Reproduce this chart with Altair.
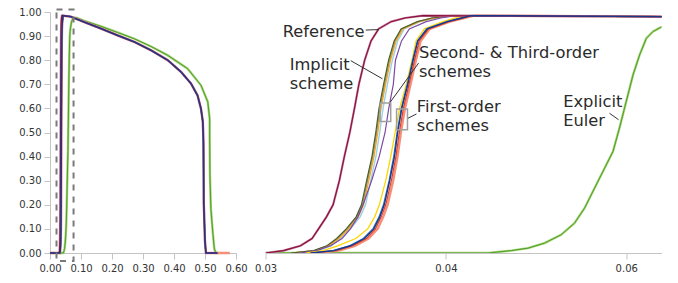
import altair as alt
import pandas as pd

# ---------------- data ----------------
# profile levels at which the rising front of each scheme was read
levels = [0.0, 0.01, 0.03, 0.06, 0.10, 0.15, 0.20, 0.30, 0.40, 0.50,
          0.60, 0.70, 0.80, 0.88, 0.93, 0.96, 0.975, 0.985]

ref_x = [0.0300, 0.03077, 0.03153, 0.03207, 0.03238, 0.03277, 0.03310, 0.03342, 0.03368,
         0.03397, 0.03422, 0.03446, 0.03478, 0.03514, 0.03558, 0.03633, 0.03718, 0.03837]
olive_x = [0.0311, 0.03214, 0.03279, 0.03328, 0.03378, 0.03431, 0.03460, 0.03489, 0.03519,
           0.03541, 0.03560, 0.03587, 0.03617, 0.03651, 0.03694, 0.03800, 0.03899, 0.04038]
grey_x = [0.0312, 0.03220, 0.03285, 0.03334, 0.03384, 0.03436, 0.03466, 0.03494, 0.03524,
          0.03546, 0.03566, 0.03593, 0.03623, 0.03657, 0.03700, 0.03806, 0.03905, 0.04045]
orange_x = [0.0312, 0.03226, 0.03290, 0.03340, 0.03391, 0.03442, 0.03472, 0.03501, 0.03531,
            0.03553, 0.03572, 0.03599, 0.03629, 0.03663, 0.03705, 0.03812, 0.03910, 0.04050]
lightblue_x = [0.0313, 0.03236, 0.03300, 0.03350, 0.03401, 0.03453, 0.03483, 0.03512, 0.03542,
               0.03564, 0.03584, 0.03610, 0.03640, 0.03673, 0.03714, 0.03818, 0.03915, 0.04056]
purple_x = [0.0315, 0.03229, 0.03297, 0.03356, 0.03400, 0.03441, 0.03469, 0.03517, 0.03561,
            0.03596, 0.03618, 0.03646, 0.03659, 0.03697, 0.03747, 0.03860, 0.03963, 0.04076]
yellow_x = [0.0318, 0.03261, 0.03333, 0.03429, 0.03495, 0.03535, 0.03562, 0.03600, 0.03630,
            0.03657, 0.03685, 0.03727, 0.03764, 0.03791, 0.03847, 0.03978, 0.04068, 0.04236]
navy_x = [0.0320, 0.03314, 0.03401, 0.03477, 0.03530, 0.03565, 0.03591, 0.03624, 0.03653,
          0.03673, 0.03699, 0.03737, 0.03772, 0.03803, 0.03868, 0.04011, 0.04122, 0.04194]
blue_x = [0.0320, 0.03308, 0.03395, 0.03470, 0.03524, 0.03560, 0.03586, 0.03620, 0.03648,
          0.03669, 0.03695, 0.03733, 0.03768, 0.03800, 0.03862, 0.04005, 0.04115, 0.04190]
red_x = [0.0321, 0.03325, 0.03412, 0.03488, 0.03539, 0.03573, 0.03600, 0.03634, 0.03662,
         0.03683, 0.03709, 0.03745, 0.03781, 0.03812, 0.03876, 0.04025, 0.04135, 0.04210]
salmon_x = [0.0322, 0.03340, 0.03425, 0.03500, 0.03552, 0.03585, 0.03611, 0.03645, 0.03672,
            0.03693, 0.03719, 0.03755, 0.03790, 0.03822, 0.03885, 0.04030, 0.04140, 0.04220]

# common decay of the profile (left panel) shared by the overlapping schemes
fall_x = [0.0665, 0.111, 0.165, 0.218, 0.272, 0.326, 0.380, 0.423, 0.455, 0.476,
          0.487, 0.493, 0.495, 0.496, 0.500, 0.503, 0.540]
fall_y = [0.981, 0.958, 0.931, 0.903, 0.876, 0.841, 0.800, 0.751, 0.703, 0.654,
          0.599, 0.544, 0.460, 0.210, 0.046, 0.000, 0.000]
salmon_tail_x = [0.580]
salmon_tail_y = [0.000]

# explicit Euler
green_x = [0.0, 0.0300, 0.0434, 0.04550, 0.04715, 0.04892, 0.05082, 0.05247, 0.05378, 0.05515,
           0.05660, 0.05787, 0.05889, 0.06000, 0.06115, 0.06231, 0.06355, 0.06482, 0.06632,
           0.0700, 0.0750, 0.0850, 0.111, 0.165, 0.218, 0.272, 0.326, 0.380, 0.444, 0.487,
           0.509, 0.515, 0.515, 0.516, 0.519, 0.525, 0.530, 0.535, 0.545]
green_y = [0.0, 0.0, 0.0, 0.010, 0.020, 0.041, 0.0755, 0.124, 0.186, 0.269,
           0.352, 0.421, 0.518, 0.629, 0.739, 0.822, 0.891, 0.919, 0.936,
           0.962, 0.975, 0.976, 0.963, 0.940, 0.915, 0.889, 0.857, 0.820, 0.765, 0.696,
           0.627, 0.557, 0.490, 0.320, 0.184, 0.087, 0.018, 0.0, 0.0]

# annotations (right panel)
label_text = ["Reference", "Implicit\nscheme", "Second- & Third-order\nschemes",
              "First-order\nschemes", "Explicit\nEuler"]
label_x = [0.03073, 0.03104, 0.03810, 0.03796, 0.05107]
label_y = [0.898, 0.761, 0.809, 0.587, 0.604]

leader_x = [0.03484, 0.03402, 0.03808, 0.03794, 0.05734]
leader_x2 = [0.03559, 0.03580, 0.03621, 0.03735, 0.05875]
leader_y = [0.925, 0.798, 0.788, 0.577, 0.580]
leader_y2 = [0.927, 0.723, 0.620, 0.558, 0.553]

box_x = [0.03567, 0.03666]
box_x2 = [0.03630, 0.03735]
box_y = [0.622, 0.598]
box_y2 = [0.546, 0.511]

zoom_box_x, zoom_box_x2 = [0.021], [0.076]
zoom_box_y, zoom_box_y2 = [1.01], [-0.033]

left_ticks_x = [0.0, 0.1, 0.2, 0.3, 0.4, 0.5, 0.6]
left_ticks_y = [0.0, 0.1, 0.2, 0.3, 0.4, 0.5, 0.6, 0.7, 0.8, 0.9, 1.0]
right_ticks_x = [0.03, 0.04, 0.06]

# ---------------- build series ----------------
def std_series(rise, tail_x=(), tail_y=()):
    xs = [0.0] + list(rise) + fall_x + list(tail_x)
    ys = [0.0] + list(levels) + fall_y + list(tail_y)
    return pd.DataFrame({"x": xs, "y": ys, "i": list(range(len(xs)))})

green_df = pd.DataFrame({"x": green_x, "y": green_y, "i": list(range(len(green_x)))})

series = [
    (green_df, "#a6d47c", 2.4),
    (green_df, "#4f9e23", 1.0),
    (std_series(salmon_x, salmon_tail_x, salmon_tail_y), "#f4907a", 2.4),
    (std_series(grey_x), "#8e9a7a", 1.6),
    (std_series(lightblue_x), "#9ccfe8", 1.4),
    (std_series(orange_x), "#f5a623", 1.3),
    (std_series(olive_x), "#4e5f2a", 1.2),
    (std_series(purple_x), "#7b4aa6", 1.2),
    (std_series(yellow_x), "#ffd400", 1.3),
    (std_series(red_x), "#e53b1f", 1.2),
    (std_series(blue_x), "#2b7bc4", 1.2),
    (std_series(ref_x), "#c27a9c", 2.2),
    (std_series(ref_x), "#8a0f3a", 1.1),
    (std_series(navy_x), "#1c3688", 1.4),
]

axis_style = dict(domainColor="#c4c4c4", tickColor="#c4c4c4", labelColor="#333333",
                  labelFont="DejaVu Sans", labelFontSize=10, tickSize=6, grid=False,
                  labelFlush=False, title=None, format=".2f")

yscale = alt.Scale(domain=[0, 1], nice=False, zero=False)

# ---------------- left panel ----------------
lx = alt.X("x:Q", scale=alt.Scale(domain=[0, 0.6], nice=False, zero=False),
           axis=alt.Axis(values=left_ticks_x, labelPadding=4, **axis_style))
ly = alt.Y("y:Q", scale=yscale,
           axis=alt.Axis(values=left_ticks_y, labelPadding=3, **axis_style))

left_layers = []
for df, col, w in series:
    left_layers.append(
        alt.Chart(df).mark_line(color=col, strokeWidth=w).encode(x=lx, y=ly, order="i:Q")
    )
zoom_df = pd.DataFrame({"x": zoom_box_x, "x2": zoom_box_x2, "y": zoom_box_y, "y2": zoom_box_y2})
left_layers.append(
    alt.Chart(zoom_df).mark_rect(filled=False, stroke="#7a7a7a", strokeWidth=2,
                                 strokeDash=[6, 6]).encode(x=lx, x2="x2:Q", y=ly, y2="y2:Q")
)
left = alt.layer(*left_layers).properties(width=186, height=241)

# ---------------- right panel ----------------
rscale = alt.Scale(type="pow", exponent=-1, domain=[0.03, 0.0665], nice=False, zero=False)
rx = alt.X("x:Q", scale=rscale,
           axis=alt.Axis(values=right_ticks_x, labelPadding=4, **axis_style))
ry = alt.Y("y:Q", scale=yscale, axis=None)

right_layers = []
for df, col, w in series:
    right_layers.append(
        alt.Chart(df).transform_filter("datum.x >= 0.029 && datum.x <= 0.2")
        .mark_line(color=col, strokeWidth=w, clip=True).encode(x=rx, y=ry, order="i:Q")
    )

lead_df = pd.DataFrame({"x": leader_x, "x2": leader_x2, "y": leader_y, "y2": leader_y2})
right_layers.append(
    alt.Chart(lead_df).mark_rule(color="#333333", strokeWidth=1)
    .encode(x=rx, x2="x2:Q", y=ry, y2="y2:Q")
)
box_df = pd.DataFrame({"x": box_x, "x2": box_x2, "y": box_y, "y2": box_y2})
right_layers.append(
    alt.Chart(box_df).mark_rect(filled=False, stroke="#a0a0a0", strokeWidth=1.5)
    .encode(x=rx, x2="x2:Q", y=ry, y2="y2:Q")
)
text_df = pd.DataFrame({"x": label_x, "y": label_y, "t": label_text})
right_layers.append(
    alt.Chart(text_df).mark_text(align="left", baseline="alphabetic", fontSize=16.3,
                                 font="DejaVu Sans", color="#2b2b2b", lineBreak="\n",
                                 lineHeight=19)
    .encode(x=rx, y=ry, text="t:N")
)
right = alt.layer(*right_layers).properties(width=396, height=241)

chart = alt.hconcat(left, right, spacing=29.5, bounds="flush").properties(
    padding={"left": 10, "top": -1, "right": 0, "bottom": 0}
).configure_view(stroke=None)

chart.save("out.html", embed_options={"renderer": "svg", "actions": False})
